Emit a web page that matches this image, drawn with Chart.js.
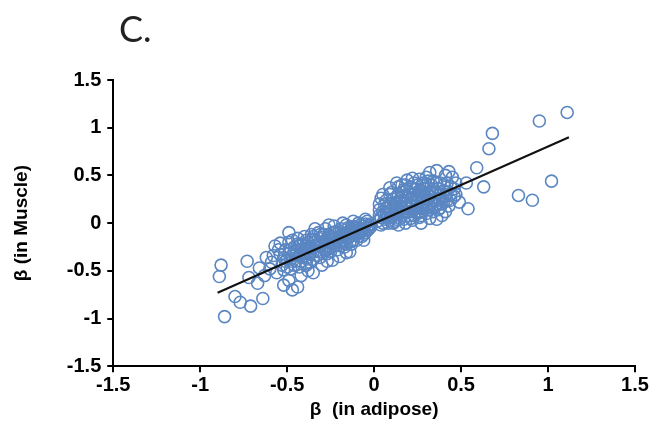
<!DOCTYPE html>
<html>
<head>
<meta charset="utf-8">
<script src="https://cdn.jsdelivr.net/npm/chart.js@4.4.1/dist/chart.umd.min.js"></script>
<style>
  html, body { margin: 0; padding: 0; background: #fff; }
  #wrap { position: relative; width: 671px; height: 439px; }
  #panel { position: absolute; left: 119px; top: 6px; font-family: Lato, "Liberation Sans", sans-serif; font-size: 36px; color: #222; }
  canvas { position: absolute; left: 0; top: 0; }
</style>
</head>
<body>
<div id="wrap">
  <canvas id="c" width="671" height="439"></canvas>
  <div id="panel">C.</div>
</div>
<script>
// Scatter points: beta in adipose (x) vs beta in muscle (y)
const adiposeBeta = [
  // left outliers
  -0.88, -0.89, -0.73, -0.80, -0.77, -0.71, -0.86, -0.64, -0.72, -0.67, -0.66, -0.58, -0.55, -0.59, -0.54, -0.49, -0.47, -0.52, -0.49, -0.44, -0.47, -0.52, -0.35, -0.37, -0.39, -0.24, -0.16,
  // right outliers
  1.11, 0.95, 0.68, 0.66, 0.59, 0.53, 0.63, 0.54, 0.83, 0.91, 1.02, 0.43, 0.09, 0.13, 0.19, 0.22, 0.28, 0.32, 0.36, 0.41, 0.45, 0.38, 0.44, 0.47, 0.49, 0.46,
  // right dense cluster
  0.02, 0.03, 0.04, 0.05, 0.06, 0.07, 0.08, 0.08, 0.10, 0.10, 0.11, 0.12, 0.12, 0.13, 0.14, 0.15, 0.15, 0.16, 0.17, 0.17, 0.18, 0.18, 0.19, 0.20, 0.20, 0.21, 0.22, 0.22, 0.23, 0.24, 0.24, 0.25, 0.26, 0.26, 0.27, 0.28, 0.28, 0.29, 0.30, 0.30, 0.31, 0.32, 0.33, 0.34, 0.34, 0.35, 0.36, 0.37, 0.38, 0.39, 0.40, 0.40, 0.42, 0.43, 0.44, 0.46, 0.47, 0.30, 0.26, 0.16, 0.06, 0.03, 0.09, 0.14, 0.23, 0.36, 0.41, 0.27, 0.32,
  // left dense cluster
  -0.02, -0.03, -0.04, -0.05, -0.06, -0.07, -0.08, -0.09, -0.10, -0.10, -0.11, -0.12, -0.13, -0.14, -0.15, -0.16, -0.17, -0.17, -0.18, -0.19, -0.20, -0.21, -0.22, -0.22, -0.23, -0.24, -0.25, -0.26, -0.27, -0.28, -0.28, -0.29, -0.30, -0.31, -0.32, -0.32, -0.33, -0.34, -0.35, -0.36, -0.36, -0.37, -0.38, -0.39, -0.40, -0.40, -0.41, -0.42, -0.43, -0.44, -0.44, -0.45, -0.46, -0.47, -0.48, -0.49, -0.50, -0.51, -0.53, -0.54, -0.56, -0.57, -0.60, -0.62, -0.63, -0.42, -0.38, -0.30, -0.27, -0.20, -0.14, -0.06, -0.12, -0.18, -0.26, -0.34, -0.05
];
const muscleBeta = [
  // left outliers
  -0.44, -0.56, -0.40, -0.77, -0.83, -0.87, -0.98, -0.79, -0.57, -0.63, -0.47, -0.34, -0.28, -0.41, -0.21, -0.10, -0.18, -0.49, -0.60, -0.67, -0.70, -0.65, -0.52, -0.41, -0.44, -0.39, -0.31,
  // right outliers
  1.16, 1.07, 0.94, 0.78, 0.58, 0.42, 0.38, 0.15, 0.29, 0.24, 0.44, 0.54, 0.37, 0.42, 0.45, 0.47, 0.42, 0.53, 0.55, 0.50, 0.48, 0.16, 0.24, 0.30, 0.22, 0.36,
  // right dense cluster
  0.02, 0.08, -0.02, 0.12, 0.04, 0.10, 0.18, 0.00, 0.06, 0.14, 0.25, 0.02, 0.20, 0.10, 0.30, 0.05, 0.17, 0.24, 0.12, 0.35, 0.00, 0.20, 0.28, 0.08, 0.15, 0.38, 0.22, 0.03, 0.30, 0.12, 0.18, 0.40, 0.26, 0.06, 0.34, 0.15, 0.22, 0.30, 0.10, 0.40, 0.24, 0.18, 0.33, 0.12, 0.44, 0.26, 0.20, 0.36, 0.30, 0.08, 0.22, 0.40, 0.32, 0.18, 0.38, 0.28, 0.42, 0.48, 0.46, 0.40, 0.20, 0.14, 0.30, -0.02, 0.08, 0.04, 0.12, 0.00, 0.05,
  // left dense cluster
  -0.01, -0.06, 0.02, -0.10, -0.03, -0.14, -0.06, 0.00, -0.10, -0.18, -0.04, -0.13, -0.22, -0.08, -0.16, -0.02, -0.25, -0.11, -0.19, -0.06, -0.14, -0.28, -0.21, -0.09, -0.03, -0.17, -0.25, -0.12, -0.32, -0.20, -0.06, -0.27, -0.15, -0.36, -0.22, -0.10, -0.29, -0.17, -0.38, -0.25, -0.12, -0.32, -0.20, -0.42, -0.28, -0.14, -0.36, -0.22, -0.46, -0.30, -0.16, -0.40, -0.25, -0.34, -0.48, -0.20, -0.38, -0.28, -0.44, -0.33, -0.52, -0.24, -0.48, -0.36, -0.55, -0.55, -0.50, -0.44, -0.40, -0.35, -0.30, -0.18, 0.02, 0.00, -0.02, -0.06, 0.04
];
// Extra points filling the two dense clusters
const denseAdipose = [
  0.04, 0.05, 0.07, 0.09, 0.09, 0.11, 0.11, 0.13, 0.13, 0.14, 0.16, 0.16, 0.18, 0.19, 0.19, 0.21, 0.21, 0.22, 0.23, 0.24, 0.25, 0.25, 0.27, 0.27, 0.29, 0.29, 0.31, 0.31, 0.33, 0.33, 0.35, 0.35, 0.37, 0.38, 0.39, 0.41, 0.42,
  -0.03, -0.04, -0.06, -0.08, -0.09, -0.11, -0.12, -0.13, -0.14, -0.15, -0.16, -0.18, -0.19, -0.20, -0.21, -0.23, -0.24, -0.25, -0.26, -0.27, -0.29, -0.30, -0.31, -0.33, -0.34, -0.35, -0.37, -0.38, -0.39, -0.41, -0.42, -0.43, -0.45, -0.46, -0.48, -0.50, -0.52,
  0.03, 0.04, 0.05, 0.06, 0.07, 0.08, 0.09, 0.10, 0.11, 0.12, 0.13, 0.14, 0.15, 0.16, 0.17, 0.18, 0.19, 0.20, 0.21, 0.22, 0.23, 0.24, 0.25, 0.26, 0.27, 0.28, 0.29, 0.30, 0.31, 0.32, 0.33, 0.34, 0.36, 0.37, 0.38, 0.40, 0.42, 0.44,
  -0.02, -0.04, -0.05, -0.07, -0.08, -0.10, -0.11, -0.12, -0.14, -0.15, -0.16, -0.17, -0.19, -0.20, -0.22, -0.23, -0.24, -0.26, -0.27, -0.28, -0.30, -0.31, -0.32, -0.34, -0.35, -0.36, -0.38, -0.39, -0.40, -0.42, -0.43, -0.44, -0.46, -0.47, -0.49, -0.51
];
const denseMuscle = [
  0.06, 0.00, 0.15, 0.10, 0.03, 0.18, 0.08, 0.22, 0.04, 0.14, 0.08, 0.32, 0.26, 0.12, 0.36, 0.18, 0.05, 0.30, 0.14, 0.36, 0.22, 0.10, 0.28, 0.16, 0.20, 0.36, 0.30, 0.14, 0.24, 0.40, 0.18, 0.32, 0.26, 0.42, 0.20, 0.28, 0.42,
  -0.02, -0.08, -0.12, -0.02, -0.14, -0.08, -0.18, -0.04, -0.20, -0.10, -0.22, -0.14, -0.24, -0.08, -0.18, -0.24, -0.10, -0.30, -0.18, -0.24, -0.12, -0.30, -0.20, -0.34, -0.24, -0.14, -0.26, -0.36, -0.18, -0.30, -0.40, -0.24, -0.33, -0.44, -0.28, -0.46, -0.36,
  0.20, 0.26, 0.30, 0.10, 0.24, 0.06, 0.20, 0.32, 0.00, 0.12, 0.28, 0.38, 0.22, 0.15, 0.04, 0.40, 0.18, 0.30, 0.24, 0.12, 0.42, 0.26, 0.16, 0.34, 0.08, 0.40, 0.26, 0.18, 0.44, 0.28, 0.16, 0.36, 0.42, 0.14, 0.24, 0.34, 0.24, 0.30,
  -0.04, -0.04, -0.01, -0.08, -0.10, -0.05, -0.12, -0.08, -0.14, -0.05, -0.12, -0.18, -0.14, -0.20, -0.15, -0.10, -0.22, -0.26, -0.16, -0.28, -0.22, -0.12, -0.30, -0.20, -0.30, -0.18, -0.28, -0.24, -0.34, -0.28, -0.34, -0.22, -0.30, -0.40, -0.32, -0.40
];
// Fitted trend line end points
const trendX = [-0.90, 1.12];
const trendY = [-0.73, 0.90];
// Axis ticks
const tickValues = [-1.5, -1, -0.5, 0, 0.5, 1, 1.5];

const allX = adiposeBeta.concat(denseAdipose);
const allY = muscleBeta.concat(denseMuscle);
const scatterPts = allX.map((x, i) => ({ x: x, y: allY[i] }));
const trendPts = trendX.map((x, i) => ({ x: x, y: trendY[i] }));

const tickFont = { family: '"Liberation Sans", Arial, sans-serif', size: 20, weight: 'bold' };
const titleFont = { family: '"Liberation Sans", Arial, sans-serif', size: 19, weight: 'bold' };

function axis(titleText, pad, tickPad) {
  return {
    type: 'linear',
    min: -1.5, max: 1.5,
    afterBuildTicks: (s) => { s.ticks = tickValues.map(v => ({ value: v })); },
    ticks: {
      color: '#000', font: tickFont, padding: tickPad,
      callback: (v) => String(v)
    },
    grid: { display: true, drawOnChartArea: false, drawTicks: true, tickLength: 6, color: '#000', lineWidth: 2 },
    border: { display: true, color: '#000', width: 2 },
    title: { display: true, text: titleText, color: '#000', font: titleFont, padding: pad }
  };
}

new Chart(document.getElementById('c'), {
  data: {
    datasets: [
      {
        type: 'line', data: trendPts, borderColor: '#111', borderWidth: 2,
        pointRadius: 0, fill: false, order: 0
      },
      {
        type: 'scatter', data: scatterPts, backgroundColor: 'rgba(0,0,0,0)',
        borderColor: '#5a86c2', borderWidth: 1.6, pointRadius: 6, order: 1
      }
    ]
  },
  options: {
    responsive: false, animation: false,
    layout: { padding: { left: 10, right: 36, top: 80, bottom: 18 } },
    plugins: { legend: { display: false }, tooltip: { enabled: false } },
    scales: {
      x: axis('β  (in adipose)', { top: 0, bottom: 0 }, 1),
      y: axis('β (in Muscle)', { top: 0, bottom: 28 }, 6)
    }
  }
});
</script>
</body>
</html>
